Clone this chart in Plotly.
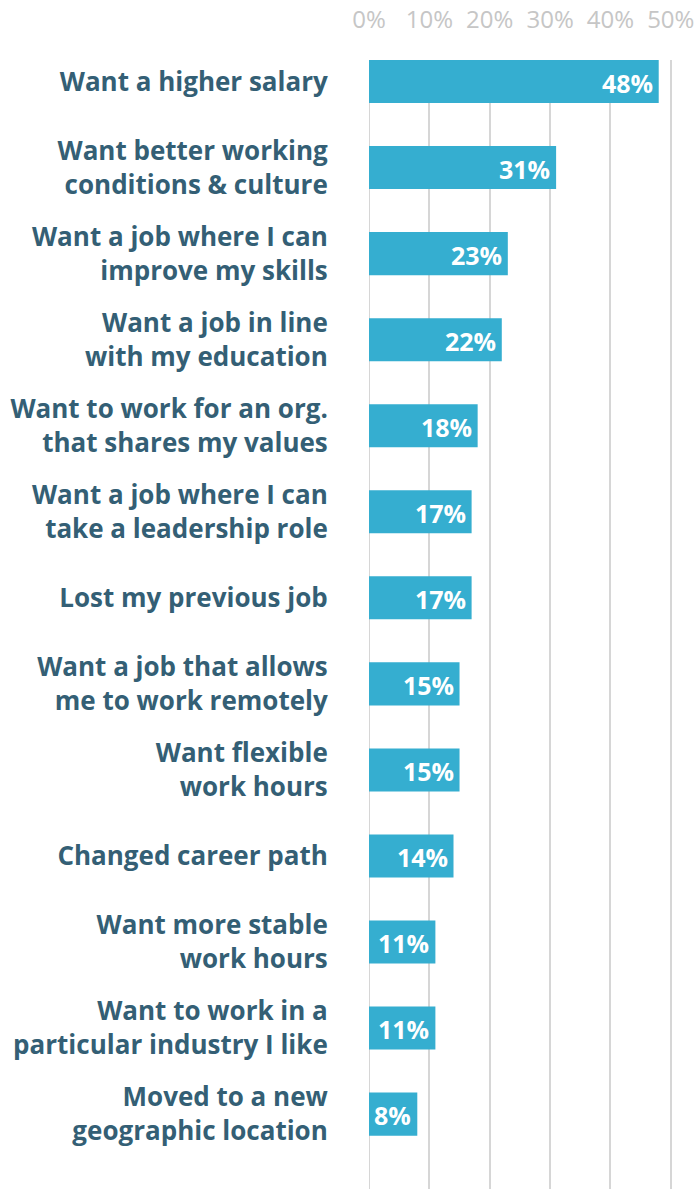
import plotly.graph_objects as go

# Reasons for looking for a new job (share of respondents, %)
reasons = [
    "Want a higher salary",
    "Want better working<br>conditions & culture",
    "Want a job where I can<br>improve my skills",
    "Want a job in line<br>with my education",
    "Want to work for an org.<br>that shares my values",
    "Want a job where I can<br>take a leadership role",
    "Lost my previous job",
    "Want a job that allows<br>me to work remotely",
    "Want flexible<br>work hours",
    "Changed career path",
    "Want more stable<br>work hours",
    "Want to work in a<br>particular industry I like",
    "Moved to a new<br>geographic location",
]
shares = [48, 31, 23, 22, 18, 17, 17, 15, 15, 14, 11, 11, 8]
tick_values = [0, 10, 20, 30, 40, 50]
tick_labels = ["0%", "10%", "20%", "30%", "40%", "50%"]

BAR = "#35aed0"
LABEL = "#345f75"
GRID = "#d6d6d6"
FONT = "Open Sans"

fig = go.Figure(
    go.Bar(
        x=shares,
        y=list(range(len(reasons))),
        orientation="h",
        width=0.5,
        marker=dict(color=BAR, line=dict(width=0)),
        hoverinfo="skip",
    )
)

# value labels inside the bar ends
for i, v in enumerate(shares):
    fig.add_annotation(
        x=v, y=i, text=f"<b>{v}%</b>", showarrow=False,
        xanchor="right", yanchor="middle", xshift=-4, yshift=-1,
        font=dict(family=FONT, size=25, color="white"),
    )

fig.update_layout(
    width=698, height=1189,
    margin=dict(l=369, r=26, t=60, b=0),
    paper_bgcolor="white", plot_bgcolor="white",
    showlegend=False,
    bargap=0.5,
    xaxis=dict(
        side="top", range=[0, 50.2],
        tickvals=tick_values, ticktext=tick_labels,
        tickfont=dict(family=FONT, size=24, color="#c6c6c6"),
        ticks="outside", ticklen=21, tickcolor="rgba(0,0,0,0)",
        showgrid=True, gridcolor=GRID, gridwidth=2,
        zeroline=False, showline=False, fixedrange=True,
    ),
    yaxis=dict(
        range=[12.87, -0.25],
        tickvals=list(range(len(reasons))),
        ticktext=[f"<b>{r}</b>" for r in reasons],
        tickfont=dict(family=FONT, size=26, color=LABEL),
        ticks="outside", ticklen=35, tickcolor="rgba(0,0,0,0)",
        showgrid=False, zeroline=False, showline=False, fixedrange=True,
    ),
)

# zero line drawn like the other gridlines
fig.add_shape(type="line", xref="x", yref="paper", x0=0, x1=0, y0=0, y1=1,
              line=dict(color=GRID, width=2), layer="below")

fig.write_html("out.html")
